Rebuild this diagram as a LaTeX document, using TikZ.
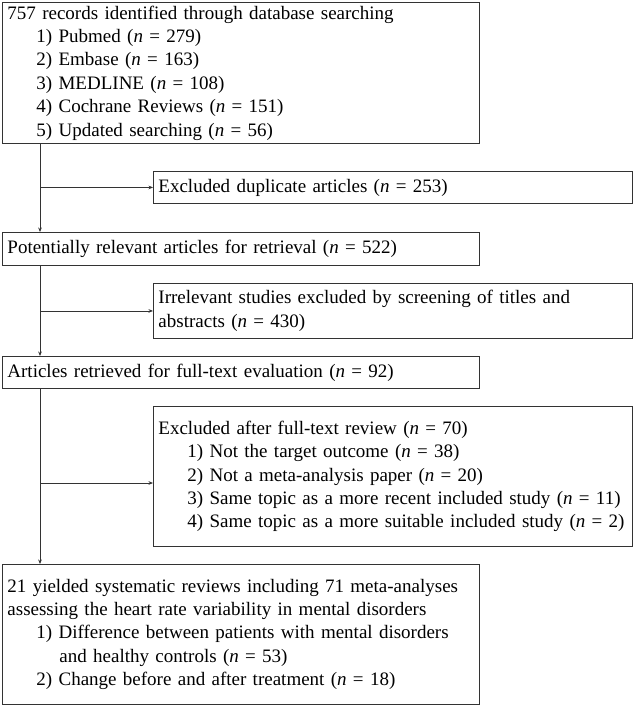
\documentclass[tikz,border=0pt]{standalone}
\usepackage{fontspec}
\setmainfont{Liberation Serif}
\usetikzlibrary{arrows.meta,calc}
\begin{document}
\begin{tikzpicture}[x=1pt,y=-1pt,
  box/.style={draw=black!80, line width=0.9pt, anchor=north west, inner xsep=5pt, inner ysep=0pt, align=left, font=\fontsize{19}{23.4}\selectfont},
  arr/.style={draw=black!80, line width=0.9pt, -{Stealth[length=4.5pt,width=3.6pt]}}]
\useasboundingbox[fill=white] (0,0) rectangle (633,706);
\node[box, minimum width=477pt, minimum height=141pt, text width=467pt] (b1) at (2,2)
 {757 records identified through database searching\\
  \hspace*{29pt}1) Pubmed (\textit{n} = 279)\\
  \hspace*{29pt}2) Embase (\textit{n} = 163)\\
  \hspace*{29pt}3) MEDLINE (\textit{n} = 108)\\
  \hspace*{29pt}4) Cochrane Reviews (\textit{n} = 151)\\
  \hspace*{29pt}5) Updated searching (\textit{n} = 56)};
\node[box, minimum width=479pt, minimum height=32pt, text width=469pt] (dup) at (153,171)
 {Excluded duplicate articles (\textit{n} = 253)};
\node[box, minimum width=477pt, minimum height=33pt, text width=467pt] (b3) at (2,232)
 {Potentially relevant articles for retrieval (\textit{n} = 522)};
\node[box, minimum width=479pt, minimum height=55pt, text width=469pt] (irr) at (153,283)
 {Irrelevant studies excluded by screening of titles and\\
  abstracts (\textit{n} = 430)};
\node[box, minimum width=477pt, minimum height=32pt, text width=467pt] (b5) at (2,356)
 {Articles retrieved for full-text evaluation (\textit{n} = 92)};
\node[box, minimum width=479pt, minimum height=140pt, text width=469pt] (exc) at (153,406)
 {Excluded after full-text review (\textit{n} = 70)\\
  \hspace*{29pt}1) Not the target outcome (\textit{n} = 38)\\
  \hspace*{29pt}2) Not a meta-analysis paper (\textit{n} = 20)\\
  \hspace*{29pt}3) Same topic as a more recent included study (\textit{n} = 11)\\
  \hspace*{29pt}4) Same topic as a more suitable included study (\textit{n} = 2)};
\node[box, minimum width=477pt, minimum height=140pt, text width=467pt] (fin) at (2,564)
 {21 yielded systematic reviews including 71 meta-analyses\\
  assessing the heart rate variability in mental disorders\\
  \hspace*{29pt}1) Difference between patients with mental disorders\\
  \hspace*{52pt}and healthy controls (\textit{n} = 53)\\
  \hspace*{29pt}2) Change before and after treatment (\textit{n} = 18)};
\coordinate (sp) at (40,0);
\coordinate (a3) at (40,483);
\draw[arr] (b1.south -| sp) -- (b3.north -| sp);
\draw[arr] (sp |- dup.west) -- (dup.west);
\draw[arr] (b3.south -| sp) -- (b5.north -| sp);
\draw[arr] (sp |- irr.west) -- (irr.west);
\draw[arr] (b5.south -| sp) -- (fin.north -| sp);
\draw[arr] (a3) -- (a3 -| exc.west);
\end{tikzpicture}
\end{document}
